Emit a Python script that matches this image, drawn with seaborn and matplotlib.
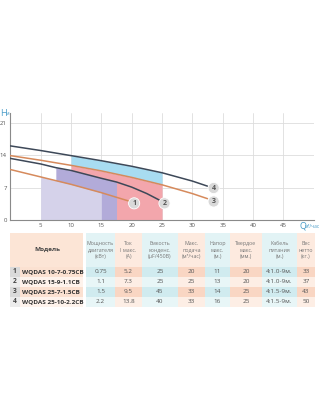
import matplotlib
matplotlib.use("Agg")
import matplotlib.pyplot as plt
import seaborn as sns
import numpy as np
import pandas as pd
from matplotlib.patches import Rectangle

# pump curves (Q in m3/h, H in m)
q1 = [0, 5, 10, 15, 19.5]
h1 = [10.9, 9.3, 7.7, 5.9, 4.1]
q2 = [0, 5, 7.5, 10, 15, 17.5, 20, 22.5, 25]
h2 = [13.3, 12.1, 11.3, 10.7, 9.0, 8.2, 7.1, 5.7, 4.0]
q3 = [0, 5, 10, 15, 20, 25, 30, 32.5]
h3 = [13.9, 12.9, 11.8, 10.6, 9.2, 7.6, 5.7, 4.6]
q4 = [0, 5, 10, 15, 20, 25, 30, 32.5]
h4 = [16.0, 15.0, 13.9, 12.8, 11.6, 10.2, 8.4, 7.3]

x_ticks = [5, 10, 15, 20, 25, 30, 35, 40, 45]
y_ticks = [0, 7, 14, 21]

# table
models = ["WQDAS 10-7-0.75CB", "WQDAS 15-9-1.1CB", "WQDAS 25-7-1.5CB", "WQDAS 25-10-2.2CB"]
headers = ["Мощность\nдвигателя\n(кВт)", "Ток\nI макс.\n(A)", "Емкость\nконденс.\n(μF/450В)",
           "Макс.\nподача\n(м³/час)", "Напор\nмакс.\n(м.)", "Твердое\nмакс.\n(мм.)",
           "Кабель\nпитания\n(м.)", "Вес\nнетто\n(кг.)"]
power = ["0.75", "1.1", "1.5", "2.2"]
current = ["5.2", "7.3", "9.5", "13.8"]
capacitor = ["25", "25", "45", "40"]
max_flow = ["20", "25", "33", "33"]
max_head = ["11", "13", "14", "16"]
solids = ["20", "20", "25", "25"]
cable = ["4:1.0-9м.", "4:1.0-9м.", "4:1.5-9м.", "4:1.5-9м."]
weight = ["33", "37", "43", "50"]

sns.set_theme(style="white")
plt.rcParams['font.family'] = ['Open Sans', 'DejaVu Sans']

ORANGE = "#d68a5c"
DARK = "#3d4858"
BLUE_TXT = "#4a9cc8"

fig = plt.figure(figsize=(3.2, 4.2), dpi=100)
W, Hpx = 320, 420
ax = fig.add_axes([10.3 / W, 1 - 220 / Hpx, 303.5 / W, 107 / Hpx])

curves = {}
for n, q, h in [("1", q1, h1), ("2", q2, h2), ("3", q3, h3), ("4", q4, h4)]:
    curves[n] = pd.DataFrame({"Q": q, "H": h})

def part(n, lo, hi):
    d = curves[n]
    d = d[(d.Q >= lo) & (d.Q <= hi)]
    return d.Q.values, d.H.values

# shaded working ranges
qa, ha = part("3", 10, 25)
ax.fill_between(qa, 0, ha, color="#f3a6ac", lw=0, zorder=1)
qb, hb = part("4", 10, 25)
ax.fill_between(qb, ha, hb, color="#a8dcf1", lw=0, zorder=1)
qc, hc = part("2", 7.5, 17.5)
ax.fill_between(qc, 0, hc, color="#b2abd9", lw=0, zorder=1.1)
qd, hd = part("1", 5, 15)
ax.fill_between(qd, 0, hd, color="#d5d2ea", lw=0, zorder=1.2)

colors = {"1": ORANGE, "2": DARK, "3": ORANGE, "4": DARK}
offs = {"1": (0.9, -0.5), "2": (0.4, -0.4), "3": (1.0, -0.6), "4": (1.0, -0.4)}
for n, d in curves.items():
    sns.lineplot(x=d.Q.values, y=d.H.values, sort=False, estimator=None,
                 color=colors[n], linewidth=1.1, ax=ax, zorder=3)
    dx, dy = offs[n]
    ax.text(d.Q.values[-1] + dx, d.H.values[-1] + dy, n, ha="center", va="center",
            fontsize=5, fontweight="bold", color="#555555", zorder=5,
            bbox=dict(boxstyle="circle,pad=0.3", fc="#d9d9d9", ec="white", lw=0.6))

ax.set_xlim(0, 50)
ax.set_ylim(0, 23.1)
ax.set_xticks(x_ticks + [50])
ax.set_xticklabels([str(t) for t in x_ticks] + [""])
ax.set_yticks(y_ticks)
ax.grid(True, color="#dddddd", lw=0.6)
ax.tick_params(axis="both", length=0, labelsize=4.3, colors="#555555", pad=2.5)
for s in ["top", "right"]:
    ax.spines[s].set_visible(False)
for s in ["left", "bottom"]:
    ax.spines[s].set_color("#8a8a8a")
    ax.spines[s].set_linewidth(0.8)
ax.set_xlabel("")
ax.set_ylabel("")

fig.text(0.5 / W, 1 - 113 / Hpx, "H", fontsize=6.5, color=BLUE_TXT, ha="left", va="center")
fig.text(6 / W, 1 - 114 / Hpx, "м", fontsize=3.5, color=BLUE_TXT, ha="left", va="center")
fig.text(299 / W, 1 - 226 / Hpx, "Q", fontsize=6.5, color=BLUE_TXT, ha="left", va="center")
fig.text(305 / W, 1 - 227 / Hpx, "м³/час", fontsize=3.5, color=BLUE_TXT, ha="left", va="center")

# table drawn in pixel coordinates
tx = fig.add_axes([0, 0, 1, 1])
tx.set_xlim(0, W)
tx.set_ylim(Hpx, 0)
tx.axis("off")

col_edges = [86, 115, 142, 178, 205, 230, 262, 297, 315]
row_edges = [233, 266.5, 276.5, 286.5, 296.5, 307]
cyan = ["#e2f3f5", "#d0ebef", "#e8f6f7"]
peach = ["#fdeadf", "#f9d6c3", "#fdeee5"]

# model column
tx.add_patch(Rectangle((10, row_edges[0]), 73, row_edges[1] - row_edges[0], fc="#fce5d6", lw=0))
tx.text(47, (row_edges[0] + row_edges[1]) / 2, "Модель", ha="center", va="center",
        fontsize=4.6, fontweight="bold", color="#444444")
columns = [power, current, capacitor, max_flow, max_head, solids, cable, weight]
for r in range(4):
    y0, y1 = row_edges[r + 1], row_edges[r + 2]
    dark = r % 2 == 0
    tx.add_patch(Rectangle((10, y0), 73, y1 - y0, fc="#fbe1d1" if dark else "#fef3ec", lw=0))
    tx.add_patch(Rectangle((10, y0), 9.5, y1 - y0, fc="#dadada" if dark else "#ececec", lw=0))
    ym = (y0 + y1) / 2
    tx.text(14.8, ym, str(r + 1), ha="center", va="center", fontsize=4.8,
            fontweight="bold", color="#444444")
    tx.text(21.5, ym, models[r], ha="left", va="center", fontsize=4.6,
            fontweight="bold", color="#333333")

for c in range(8):
    x0, x1 = col_edges[c], col_edges[c + 1]
    pal = cyan if c % 2 == 0 else peach
    tx.add_patch(Rectangle((x0, row_edges[0]), x1 - x0, row_edges[1] - row_edges[0], fc=pal[0], lw=0))
    tx.text((x0 + x1) / 2, (row_edges[0] + row_edges[1]) / 2 + 0.5, headers[c], ha="center",
            va="center", fontsize=3.8, color="#777777", linespacing=1.35)
    for r in range(4):
        y0, y1 = row_edges[r + 1], row_edges[r + 2]
        tx.add_patch(Rectangle((x0, y0), x1 - x0, y1 - y0, fc=pal[1] if r % 2 == 0 else pal[2], lw=0))
        tx.text((x0 + x1) / 2, (y0 + y1) / 2, columns[c][r], ha="center", va="center",
                fontsize=4.6, color="#555555")

fig.savefig("out.png", dpi=100)
